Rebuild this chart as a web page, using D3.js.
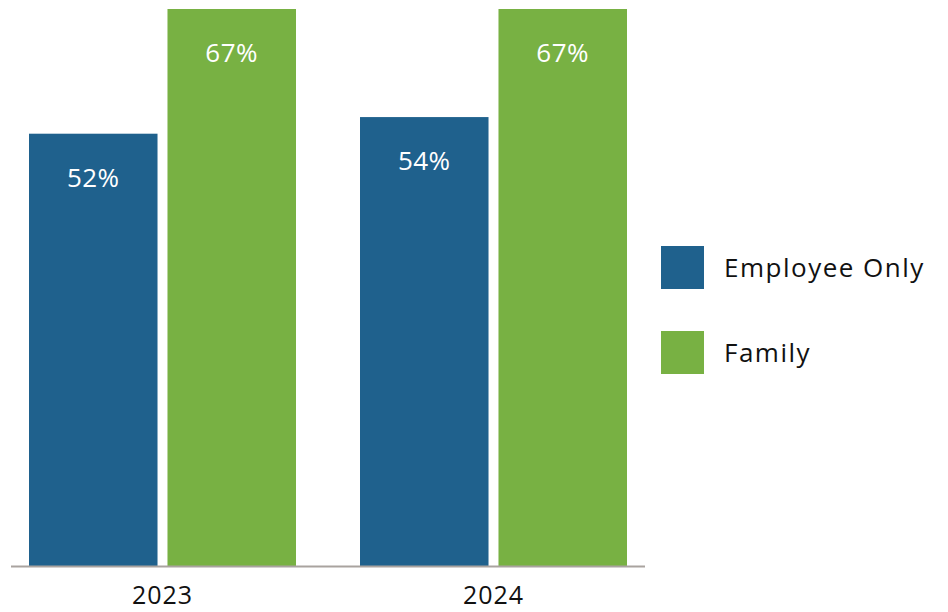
<!DOCTYPE html>
<html>
<head>
<meta charset="utf-8">
<script src="https://cdn.jsdelivr.net/npm/d3@7"></script>
<style>
  html, body { margin: 0; padding: 0; background: #fff; }
  svg { display: block; font-family: "Open Sans", "DejaVu Sans", sans-serif; }
</style>
</head>
<body>
<svg id="chart" width="948" height="612"></svg>
<script>
// Share of premium paid, by coverage tier and year
const years = ["2023", "2024"];
const tiers = ["Employee Only", "Family"];
const employeeOnlyValues = [52, 54];
const familyValues = [67, 67];
const tierColors = ["#1F618D", "#78B143"];

const rows = years.map((y, i) => ({
  year: y,
  values: [
    { tier: tiers[0], value: employeeOnlyValues[i] },
    { tier: tiers[1], value: familyValues[i] }
  ]
}));

const svg = d3.select("#chart");

const x0 = d3.scaleBand()
  .domain(years)
  .range([11, 645])
  .paddingInner(0.1934)
  .paddingOuter(0.0544);

const x1 = d3.scaleBand()
  .domain(tiers)
  .range([0, x0.bandwidth()])
  .paddingInner(0.072);

const y = d3.scaleLinear()
  .domain([0, 67])
  .range([566, 9]);

const color = d3.scaleOrdinal().domain(tiers).range(tierColors);

const groups = svg.append("g")
  .selectAll("g")
  .data(rows)
  .join("g")
  .attr("transform", d => `translate(${x0(d.year)},0)`);

groups.selectAll("rect")
  .data(d => d.values)
  .join("rect")
  .attr("x", d => x1(d.tier))
  .attr("y", d => y(d.value))
  .attr("width", x1.bandwidth())
  .attr("height", d => y(0) - y(d.value))
  .attr("fill", d => color(d.tier));

groups.selectAll("text.value")
  .data(d => d.values)
  .join("text")
  .attr("class", "value")
  .attr("x", d => x1(d.tier) + x1.bandwidth() / 2)
  .attr("y", d => y(d.value) + 53)
  .attr("text-anchor", "middle")
  .attr("fill", "#ffffff")
  .attr("font-size", 26)
  .attr("letter-spacing", 0.5)
  .text(d => d.value + "%");

// Category axis along the baseline
const axis = svg.append("g")
  .attr("transform", `translate(0,${y(0)})`)
  .call(d3.axisBottom(x0).tickSize(0).tickPadding(20));
axis.select(".domain")
  .attr("stroke", "#A9A39F")
  .attr("stroke-width", 2)
  .attr("d", "M11,0.5H645");
axis.selectAll("text")
  .attr("font-size", 25)
  .attr("fill", "#111")
  .attr("letter-spacing", 1)
  .attr("font-family", "'Open Sans', 'DejaVu Sans', sans-serif");

// Legend
const legend = svg.append("g")
  .selectAll("g")
  .data(tiers)
  .join("g")
  .attr("transform", (d, i) => `translate(661,${246 + i * 85})`);

legend.append("rect")
  .attr("width", 43)
  .attr("height", 43)
  .attr("fill", d => color(d));

legend.append("text")
  .attr("x", 63)
  .attr("y", 21.5)
  .attr("dy", "0.35em")
  .attr("font-size", 26)
  .attr("letter-spacing", 1.5)
  .attr("fill", "#111")
  .text(d => d);
</script>
</body>
</html>
